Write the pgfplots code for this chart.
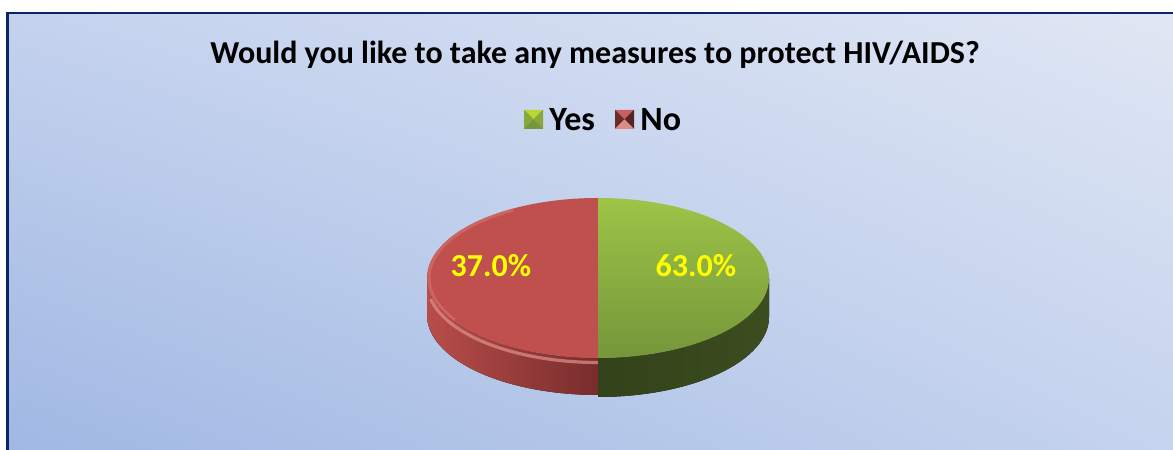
\documentclass[border=0pt]{standalone}
\usepackage{pgfplots}
\pgfplotsset{compat=1.18}
\usepackage{pgfplotstable}
\usepgfplotslibrary{fillbetween}
\usetikzlibrary{shadings}
\usepackage{fontspec}
\setmainfont{Carlito}
\definecolor{bgUL}{HTML}{C4D2EE}
\definecolor{bgUR}{HTML}{E0E7F4}
\definecolor{bgLL}{HTML}{A0B8E3}
\definecolor{bgLR}{HTML}{C5D3EE}
\definecolor{frame}{HTML}{0B2466}
\definecolor{redtop}{HTML}{C0504D}
\definecolor{redrim}{HTML}{D26D69}
\definecolor{redsideL}{HTML}{B84D4A}
\definecolor{redsideR}{HTML}{772D2C}
\definecolor{redhl}{HTML}{DC8C88}
\definecolor{greentopT}{HTML}{9EC447}
\definecolor{greentopB}{HTML}{76963A}
\definecolor{greensideL}{HTML}{33421A}
\definecolor{greensideR}{HTML}{3C4D1F}
\definecolor{labelyellow}{HTML}{FFFF00}
% label, value (%), start and end angle of the drawn slice (as in the picture)
\pgfplotstableread{
label value start end
Yes 63.0 -90 90
No 37.0 90 270
}\piedata
\pgfplotstablegetelem{0}{start}\of\piedata \edef\yesStart{\pgfplotsretval}
\pgfplotstablegetelem{0}{end}\of\piedata \edef\yesEnd{\pgfplotsretval}
\pgfplotstablegetelem{1}{start}\of\piedata \edef\noStart{\pgfplotsretval}
\pgfplotstablegetelem{1}{end}\of\piedata \edef\noEnd{\pgfplotsretval}
\begin{document}
\begin{tikzpicture}
\begin{axis}[scale only axis, width=586.5bp, height=225bp,
  xmin=0, xmax=1173, ymin=0, ymax=450, y dir=reverse,
  hide axis, clip=false, samples=90, variable=t]
% background and frame
\fill[white] (axis cs:0,0) rectangle (axis cs:1173,450);
\shade[upper left=bgUL, upper right=bgUR, lower left=bgLL, lower right=bgLR]
  (axis cs:9,14) rectangle (axis cs:1173,450);
\fill[frame] (axis cs:6,12) rectangle (axis cs:1173,14.5);
\fill[frame] (axis cs:6,12) rectangle (axis cs:9,450);
% title
\node at (axis cs:595,55) {\fontsize{16bp}{19bp}\selectfont\bfseries Would you like to take any measures to protect HIV/AIDS?};
% legend
\fill[greentopB] (axis cs:524,110) rectangle (axis cs:543,129);
\fill[greentopT!70!yellow] (axis cs:524,110) -- (axis cs:543,110) -- (axis cs:533.5,119.5) -- cycle;
\fill[greentopT!85!black] (axis cs:524,110) -- (axis cs:524,129) -- (axis cs:533.5,119.5) -- cycle;
\fill[greentopT!85!black] (axis cs:543,110) -- (axis cs:543,129) -- (axis cs:533.5,119.5) -- cycle;
\node[anchor=west, inner sep=0pt] at (axis cs:549,119.5) {\fontsize{17bp}{20bp}\selectfont\bfseries Yes};
\fill[redtop] (axis cs:615,110) rectangle (axis cs:634,129);
\fill[redtop!90!white] (axis cs:615,110) -- (axis cs:634,110) -- (axis cs:624.5,119.5) -- cycle;
\fill[redtop!55!black] (axis cs:615,110) -- (axis cs:615,129) -- (axis cs:624.5,119.5) -- cycle;
\fill[redtop!45!black] (axis cs:634,110) -- (axis cs:634,129) -- (axis cs:624.5,119.5) -- cycle;
\fill[redhl] (axis cs:615,129) -- (axis cs:634,129) -- (axis cs:624.5,119.5) -- cycle;
\node[anchor=west, inner sep=0pt] at (axis cs:640,119.5) {\fontsize{17bp}{20bp}\selectfont\bfseries No};
% pie sides
\addplot[name path=rt, draw=none, domain=180:\noEnd] ({598+171*cos(t)},{278-80*sin(t)});
\addplot[name path=rb, draw=none, domain=180:\noEnd] ({598+171*cos(t)},{315-80*sin(t)});
\addplot[left color=redsideL, right color=redsideR, draw=none] fill between[of=rt and rb, on layer=main];
\addplot[redhl, line width=1.6bp, opacity=0.75, domain=192:\noEnd] ({598+171*cos(t)},{282.5-80*sin(t)});
\addplot[name path=gt, draw=none, domain=\yesStart:0] ({598+171*cos(t)},{278-80*sin(t)});
\addplot[name path=gb, draw=none, domain=\yesStart:0] ({598+171*cos(t)},{317-80*sin(t)});
\addplot[left color=greensideL, right color=greensideR, draw=none] fill between[of=gt and gb, on layer=main];
% pie top faces
\addplot[fill=redtop, draw=none, domain=\noStart:\noEnd] ({598+171*cos(t)},{278-80*sin(t)}) -- (axis cs:598,278) -- cycle;
\addplot[redrim, line width=1.5bp, opacity=0.7, domain=120:212] ({598+169*cos(t)},{278-78.5*sin(t)});
\addplot[top color=greentopT, bottom color=greentopB, draw=none, domain=\yesStart:\yesEnd] ({598+171*cos(t)},{278-80*sin(t)}) -- (axis cs:598,278) -- cycle;
% data labels
\node[text=labelyellow] at (axis cs:696,266) {\fontsize{16bp}{19bp}\selectfont\bfseries 63.0\%};
\node[text=labelyellow] at (axis cs:491,266) {\fontsize{16bp}{19bp}\selectfont\bfseries 37.0\%};
\end{axis}
\end{tikzpicture}
\end{document}
